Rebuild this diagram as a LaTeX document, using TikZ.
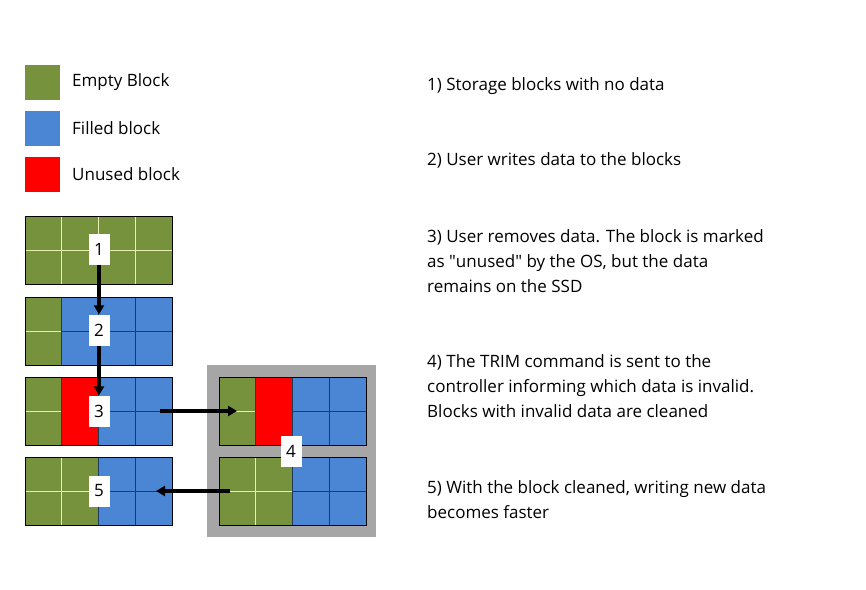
\documentclass[tikz,border=0pt]{standalone}
\usepackage{fontspec}
\usetikzlibrary{arrows.meta}
\setmainfont{Open Sans}
\definecolor{gr}{HTML}{76923C}
\definecolor{bl}{HTML}{4A86D4}
\definecolor{rd}{HTML}{FF0000}
\definecolor{gline}{HTML}{E8F0B0}
\definecolor{bline}{HTML}{1F3A5F}
\definecolor{grayb}{HTML}{A6A6A6}
\tikzset{
 lbl/.style={fill=white,minimum width=21pt,minimum height=31pt,inner sep=0pt,font=\fontsize{17}{17}\selectfont},
 txt/.style={anchor=west,inner sep=0pt,font=\fontsize{17}{25}\selectfont,align=left},
 arr/.style={-{Triangle[length=9pt,width=10pt]},line width=3.2pt,black},
}
\newcommand{\blk}[6]{% x y c1 c2 c3 c4
 \fill[#3] (#1,#2) rectangle ++(36.75,68);
 \fill[#4] (#1+36.75,#2) rectangle ++(36.75,68);
 \fill[#5] (#1+73.5,#2) rectangle ++(36.75,68);
 \fill[#6] (#1+110.25,#2) rectangle ++(36.75,68);
 \foreach \i/\c in {0/#3,1/#4,2/#5,3/#6}{
   \draw[line width=0.8pt,\c line] (#1+\i*36.75,#2+34) -- ++(36.75,0);}}
\colorlet{grline}{gline}\colorlet{blline}{bline}\colorlet{rdline}{rd}
\begin{document}
\begin{tikzpicture}[x=1pt,y=-1pt]
\useasboundingbox (0,0) rectangle (866,589);
% legend
\fill[gr] (25,65) rectangle (60,100);
\fill[bl] (25,111) rectangle (60,146);
\fill[rd] (25,157) rectangle (60,192);
\node[txt] (l1) at (72,82) {Empty Block};
\node[txt] (l2) at (72,128) {Filled block};
\node[txt] (l3) at (72,174) {Unused block};
% gray frame
\fill[grayb] (207,365) rectangle (376,537);
% blocks
\blk{25}{216}{gr}{gr}{gr}{gr}
\blk{25}{297}{gr}{bl}{bl}{bl}
\blk{25}{377}{gr}{rd}{bl}{bl}
\blk{25}{457}{gr}{gr}{bl}{bl}
\blk{219}{377}{gr}{rd}{bl}{bl}
\blk{219}{457}{gr}{gr}{bl}{bl}
% vertical separators
\foreach \x/\y/\a/\b/\c in {25/216/gline/gline/gline,25/297/bline/bline/bline,25/377/bline/bline/bline,25/457/gline/bline/bline,219/377/bline/bline/bline,219/457/gline/bline/bline}{
 \draw[line width=0.8pt,\a] (\x+36.75,\y) -- ++(0,68);
 \draw[line width=0.8pt,\b] (\x+73.5,\y) -- ++(0,68);
 \draw[line width=0.8pt,\c] (\x+110.25,\y) -- ++(0,68);
 \draw[line width=0.8pt] (\x,\y) rectangle ++(147,68);}
% labels
\node[lbl] (n1) at (99,249) {1};
\node[lbl] (n2) at (99,330) {2};
\node[lbl] (n3) at (99,411) {3};
\node[lbl] (n4) at (291,451) {4};
\node[lbl] (n5) at (99,491) {5};
\coordinate (a3) at (160,411);
\coordinate (b3) at (237,411);
\coordinate (a4) at (230,491);
\coordinate (b4) at (156,491);
\draw[arr] (n1.south) -- (n2.north);
\draw[arr] (n2.south) -- (n3.north);
\draw[arr] (a3) -- (b3);
\draw[arr] (a4) -- (b4);
% right texts
\node[txt] (t1) at (427,86) {1) Storage blocks with no data};
\node[txt] (t2) at (427,160) {2) User writes data to the blocks};
\node[txt] (t3) at (427,261) {3) User removes data. The block is marked\\as \textquotedbl unused\textquotedbl{} by the OS, but the data\\remains on the SSD};
\node[txt] (t4) at (427,386) {4) The TRIM command is sent to the\\controller informing which data is invalid.\\Blocks with invalid data are cleaned};
\node[txt] (t5) at (427,499.5) {5) With the block cleaned, writing new data\\becomes faster};
\end{tikzpicture}
\end{document}
